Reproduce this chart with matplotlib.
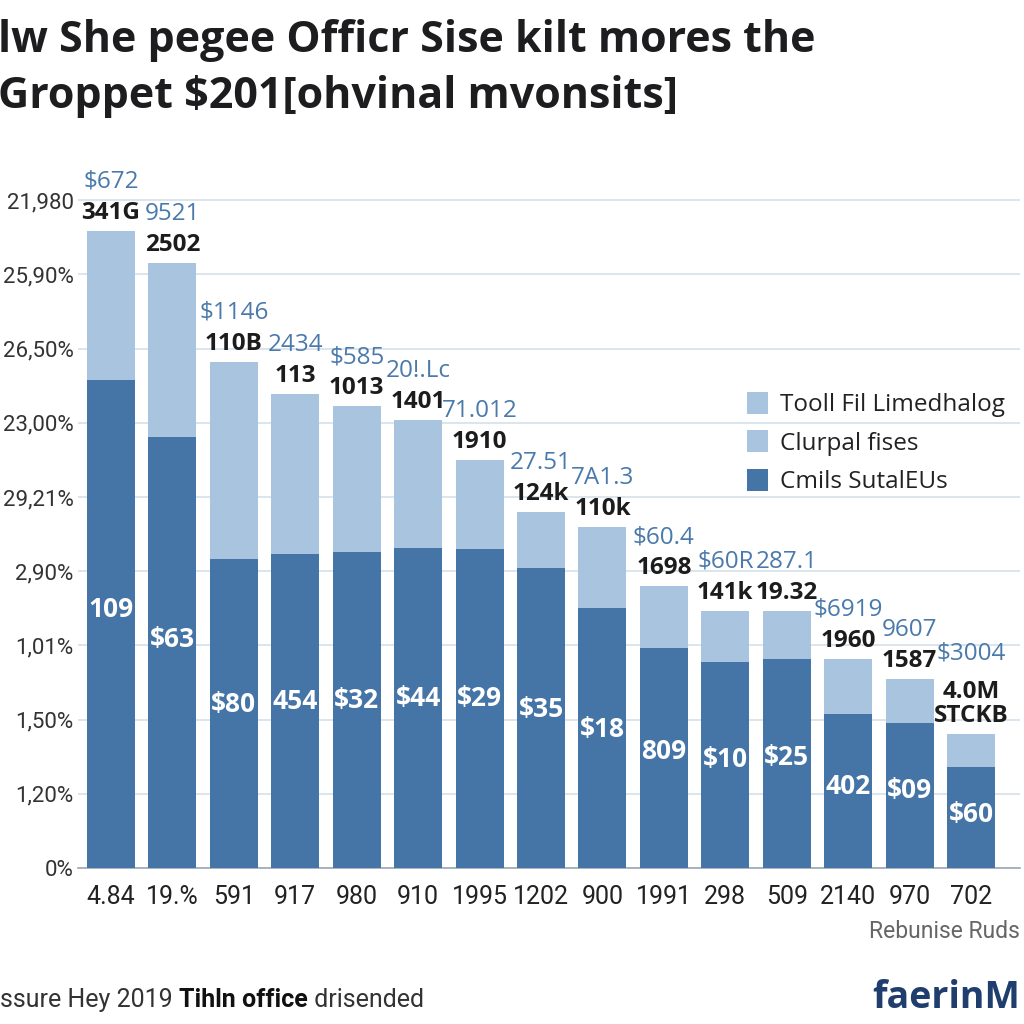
import matplotlib
matplotlib.use("Agg")
import matplotlib.pyplot as plt
from matplotlib.patches import Patch
import numpy as np

# ---------------- data ----------------
title_lines = ["lw She pegee Officr Sise kilt mores the",
               "Groppet $201[ohvinal mvonsits]"]
categories = ["4.84", "19.%", "591", "917", "980", "910", "1995", "1202",
              "900", "1991", "298", "509", "2140", "970", "702"]
base_values = [6.58, 5.81, 4.16, 4.23, 4.26, 4.31, 4.30, 4.04, 3.51, 2.96,
               2.77, 2.81, 2.08, 1.96, 1.36]
total_values = [8.59, 8.15, 6.82, 6.39, 6.22, 6.04, 5.50, 4.80, 4.59, 3.80,
                3.47, 3.46, 2.82, 2.55, 1.81]
black_labels = ["341G", "2502", "110B", "113", "1013", "1401", "1910", "124k",
                "110k", "1698", "141k", "19.32", "1960", "1587", "4.0M\nSTCKB"]
blue_labels = ["$672", "9521", "$1146", "2434", "$585", "20!.Lc", "71.012",
               "27.51", "7A1.3", "$60.4", "$60R", "287.1", "$6919", "9607",
               "$3004"]
inner_labels = ["109", "$63", "$80", "454", "$32", "$44", "$29", "$35", "$18",
                "809", "$10", "$25", "402", "$09", "$60"]
ytick_labels = ["0%", "1,20%", "1,50%", "1,01%", "2,90%", "29,21%", "23,00%",
                "26,50%", "25,90%", "21,980"]
legend_labels = ["Tooll Fil Limedhalog", "Clurpal fises", "Cmils SutalEUs"]
source_note = "Rebunise Ruds"
footer_parts = ["ssure Hey 2019 ", "Tihln office", " drisended"]
logo_text = "faerinM"

# ---------------- style ----------------
DARK = "#4574a6"
LIGHT = "#a9c4de"
BLUE_TXT = "#4a79ab"
GRID = "#d3e0ea"
NARROW = ["Roboto", "DejaVu Sans"]
plt.rcParams["font.family"] = ["Open Sans", "DejaVu Sans"]

W = H = 1024
fig = plt.figure(figsize=(10.24, 10.24), dpi=100)
fig.patch.set_facecolor("white")

unit_px = 74.2
ymax = 9.5
ax_left, ax_right = 78, 1020
ax_bottom_px = 868
ax = fig.add_axes([ax_left / W, 1 - ax_bottom_px / H,
                   (ax_right - ax_left) / W, ymax * unit_px / H])

x = np.arange(len(categories))
base = np.array(base_values)
total = np.array(total_values)
upper = total - base

ax.bar(x, base, width=0.78, color=DARK, zorder=3)
ax.bar(x, upper, bottom=base, width=0.78, color=LIGHT, zorder=3)

step_px = 61.43
ax.set_xlim(-(111 - ax_left) / step_px, (ax_right - 111) / step_px)
ax.set_ylim(0, ymax)

ax.set_yticks(range(len(ytick_labels)))
ax.set_yticklabels(ytick_labels, fontsize=16, color="#333333", family=NARROW)
ax.set_xticks(x)
ax.set_xticklabels(categories, fontsize=18, color="#222222", family=NARROW)
ax.tick_params(axis="both", length=0)
ax.tick_params(axis="y", pad=3)
ax.tick_params(axis="x", pad=12)
ax.grid(axis="y", color=GRID, linewidth=1.2, zorder=0)
for s in ["top", "right", "left"]:
    ax.spines[s].set_visible(False)
ax.spines["bottom"].set_color("#9aa8b4")
ax.spines["bottom"].set_linewidth(1.2)

for i in range(len(categories)):
    nlines = black_labels[i].count("\n") + 1
    ax.annotate(black_labels[i], xy=(x[i], total[i]), xytext=(0, 6),
                textcoords="offset pixels", ha="center", va="bottom",
                fontsize=17.5, fontweight="bold", color="#1c1c1c",
                linespacing=1.0, zorder=5)
    ax.annotate(blue_labels[i], xy=(x[i], total[i]),
                xytext=(0, 6 + 31 * nlines), textcoords="offset pixels",
                ha="center", va="bottom", fontsize=17.5, color=BLUE_TXT,
                zorder=5)
    ax.text(x[i], base[i] * 0.53, inner_labels[i], ha="center", va="center",
            fontsize=19, fontweight="bold", color="white", zorder=5)

handles = [Patch(facecolor=LIGHT), Patch(facecolor=LIGHT), Patch(facecolor=DARK)]
fig.legend(handles, legend_labels, loc="upper left",
           bbox_to_anchor=(725 / W, 1 - 370 / H), frameon=False,
           fontsize=17.5, handlelength=0.85, handleheight=1.0,
           handletextpad=0.5, labelspacing=0.55, labelcolor="#222222")

# ---------------- title ----------------
fig.text(-2 / W, 1 - 40 / H, title_lines[0], fontsize=31, fontweight="bold",
         color="#1d1d1f", ha="left", va="center")
fig.text(-2 / W, 1 - 96 / H, title_lines[1], fontsize=31, fontweight="bold",
         color="#1d1d1f", ha="left", va="center")

fig.text(1020 / W, 1 - 931 / H, source_note, fontsize=16.5, color="#666666",
         ha="right", va="center", family=NARROW)

# footer with mixed weights
renderer = fig.canvas.get_renderer()
cur_x = 0
weights = ["normal", "bold", "normal"]
for part, wgt in zip(footer_parts, weights):
    t = fig.text(cur_x / W, 1 - 1000 / H, part, fontsize=18, fontweight=wgt,
                 color="#333333" if wgt == "normal" else "#111111",
                 ha="left", va="center", family=NARROW)
    bb = t.get_window_extent(renderer=renderer)
    cur_x += bb.width

fig.text(1020 / W, 1 - 998 / H, logo_text, fontsize=27, fontweight="bold",
         color="#1f3e6d", ha="right", va="center")

fig.savefig("out.png", dpi=100)
